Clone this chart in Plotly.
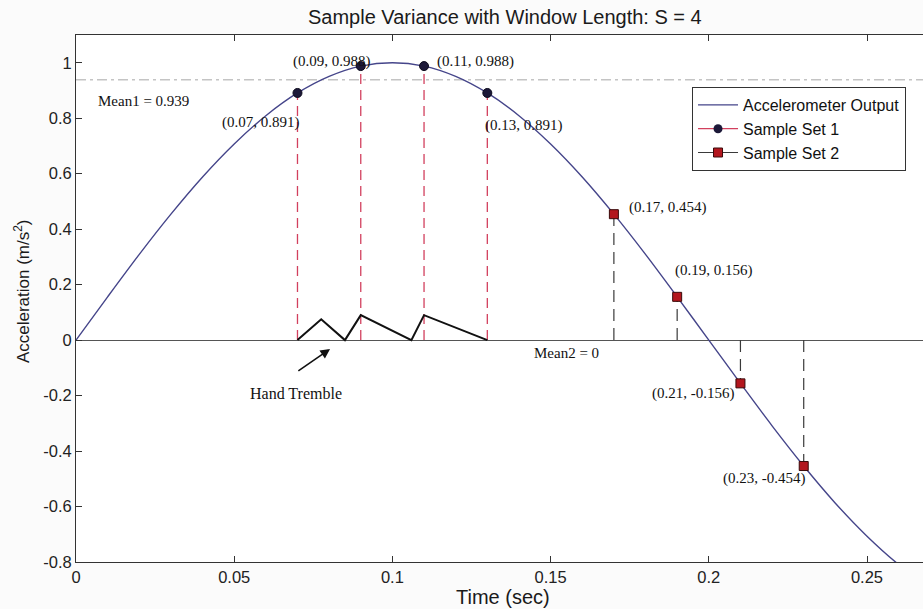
import plotly.graph_objects as go

# Accelerometer output sampled every 10 ms (m/s^2)
t_out = [0.00, 0.01, 0.02, 0.03, 0.04, 0.05, 0.06, 0.07, 0.08, 0.09,
         0.10, 0.11, 0.12, 0.13, 0.14, 0.15, 0.16, 0.17, 0.18, 0.19,
         0.20, 0.21, 0.22, 0.23, 0.24, 0.25, 0.26, 0.27]
a_out = [0.000, 0.156, 0.309, 0.454, 0.588, 0.707, 0.809, 0.891, 0.951, 0.988,
         1.000, 0.988, 0.951, 0.891, 0.809, 0.707, 0.588, 0.454, 0.309, 0.156,
         0.000, -0.156, -0.309, -0.454, -0.588, -0.707, -0.809, -0.891]

# Two windows of S = 4 samples
set1_t = [0.07, 0.09, 0.11, 0.13]
set1_v = [0.891, 0.988, 0.988, 0.891]
set2_t = [0.17, 0.19, 0.21, 0.23]
set2_v = [0.454, 0.156, -0.156, -0.454]

mean1 = 0.939
mean2 = 0

# Hand tremble trace near zero
tremble_t = [0.07, 0.0775, 0.085, 0.09, 0.106, 0.11, 0.13]
tremble_v = [0.0, 0.075, 0.0, 0.09, 0.0, 0.09, 0.0]

# Axis ticks
x_ticks = [0, 0.05, 0.1, 0.15, 0.2, 0.25]
x_ticklabels = ["0", "0.05", "0.1", "0.15", "0.2", "0.25"]
y_ticks = [-0.8, -0.6, -0.4, -0.2, 0, 0.2, 0.4, 0.6, 0.8, 1.0]
y_ticklabels = ["-0.8", "-0.6", "-0.4", "-0.2", "0", "0.2", "0.4", "0.6", "0.8", "1"]

SANS = "Liberation Sans, Arial, sans-serif"
SERIF = "Liberation Serif, Times New Roman, serif"

CURVE = "#45458a"
RED_STEM = "#d2405e"
GRAY_STEM = "#3a3a3a"
NAVY_DOT = "#1c1838"
RED_SQ = "#b3161e"


def stems(ts, vs):
    xs, ys = [], []
    for t, v in zip(ts, vs):
        xs += [t, t, None]
        ys += [0, v, None]
    return xs, ys


fig = go.Figure()

fig.add_trace(go.Scatter(
    x=t_out, y=a_out, mode="lines", name="Accelerometer Output",
    line=dict(color=CURVE, width=1.4, shape="spline", smoothing=0.8),
))

sx1, sy1 = stems(set1_t, set1_v)
fig.add_trace(go.Scatter(
    x=sx1, y=sy1, mode="lines", showlegend=False, hoverinfo="skip",
    line=dict(color=RED_STEM, width=1.3, dash="10px,6px"),
))
sx2, sy2 = stems(set2_t, set2_v)
fig.add_trace(go.Scatter(
    x=sx2, y=sy2, mode="lines", showlegend=False, hoverinfo="skip",
    line=dict(color=GRAY_STEM, width=1.2, dash="12px,7px"),
))

fig.add_trace(go.Scatter(
    x=tremble_t, y=tremble_v, mode="lines", showlegend=False,
    line=dict(color="#111111", width=2),
))

fig.add_trace(go.Scatter(
    x=set1_t, y=set1_v, mode="markers", showlegend=False,
    marker=dict(symbol="circle", size=9, color=NAVY_DOT,
                line=dict(color="#0c0a1c", width=1)),
))
fig.add_trace(go.Scatter(
    x=set2_t, y=set2_v, mode="markers", showlegend=False,
    marker=dict(symbol="square", size=9, color=RED_SQ,
                line=dict(color="#3a0a0a", width=1)),
))

# legend entries for the two sample sets
fig.add_trace(go.Scatter(
    x=[None], y=[None], mode="lines+markers", name="Sample Set 1",
    line=dict(color=RED_STEM, width=1.3),
    marker=dict(symbol="circle", size=9, color=NAVY_DOT),
))
fig.add_trace(go.Scatter(
    x=[None], y=[None], mode="lines+markers", name="Sample Set 2",
    line=dict(color=GRAY_STEM, width=1.2),
    marker=dict(symbol="square", size=9, color=RED_SQ,
                line=dict(color="#3a0a0a", width=1)),
))

# mean of the first window
fig.add_shape(type="line", xref="paper", x0=0, x1=1, yref="y", y0=mean1, y1=mean1,
              line=dict(color="#c4c4c4", width=1.5, dash="10px,4px,3px,4px"),
              layer="below")

annotations = []

# point labels: (anchor, xshift, yshift) per sample
label_pos1 = [("right", 5, -30), ("center", -29, 5), ("left", 11, 5), ("left", -4, -33)]
label_pos2 = [("left", 13, 7), ("left", -4, 26), ("right", -3, -10), ("right", 4, -12)]
for ts, vs, pos in ((set1_t, set1_v, label_pos1), (set2_t, set2_v, label_pos2)):
    for t, v, (anc, dx, dy) in zip(ts, vs, pos):
        annotations.append(dict(
            x=t, y=v, xref="x", yref="y", text=f"({t:.2f}, {v:.3f})",
            showarrow=False, xanchor=anc, yanchor="middle", xshift=dx, yshift=dy,
            font=dict(family=SERIF, size=15, color="#111111"),
        ))

annotations.append(dict(
    x=0, y=mean1, xref="paper", yref="y", text=f"Mean1 = {mean1}",
    showarrow=False, xanchor="left", yanchor="middle", xshift=20, yshift=-21,
    font=dict(family=SERIF, size=15, color="#111111"),
))
annotations.append(dict(
    x=0.144, y=mean2, xref="x", yref="y", text=f"Mean2 = {mean2}",
    showarrow=False, xanchor="left", yanchor="middle", yshift=-13,
    font=dict(family=SERIF, size=15, color="#111111"),
))

# hand tremble callout
annotations.append(dict(
    x=0.0803, y=-0.032, ax=0.0698, ay=-0.115, xref="x", yref="y",
    axref="x", ayref="y", text="", showarrow=True,
    arrowhead=2, arrowsize=1.2, arrowwidth=1.6, arrowcolor="#111111",
))
annotations.append(dict(
    x=0.0695, y=-0.191, xref="x", yref="y", text="Hand Tremble",
    showarrow=False, xanchor="center", yanchor="middle",
    font=dict(family=SERIF, size=16, color="#111111"),
))

# axis titles
annotations.append(dict(
    x=0.504, y=-0.0664, xref="paper", yref="paper", text="Time (sec)",
    showarrow=False, xanchor="center", yanchor="middle",
    font=dict(family=SANS, size=20, color="#1a1a1a"),
))
annotations.append(dict(
    x=-0.0638, y=0.514, xref="paper", yref="paper",
    text="Acceleration (m/s<sup>2</sup>)", textangle=-90,
    showarrow=False, xanchor="center", yanchor="middle",
    font=dict(family=SANS, size=17, color="#1a1a1a"),
))

fig.update_layout(
    width=923, height=609,
    margin=dict(l=76, r=0, t=35, b=47),
    paper_bgcolor="#fbfbfb", plot_bgcolor="#ffffff",
    title=dict(text="Sample Variance with Window Length: S = 4",
               x=0.547, xref="container", xanchor="center",
               y=1 - 17 / 609, yref="container", yanchor="middle",
               font=dict(family=SANS, size=20, color="#1a1a1a")),
    showlegend=True,
    legend=dict(x=0.7273, y=0.9013, xanchor="left", yanchor="top",
                bgcolor="#ffffff", bordercolor="#333333", borderwidth=1,
                font=dict(family=SANS, size=16, color="#111111"),
                itemwidth=40, tracegroupgap=0),
    annotations=annotations,
    xaxis=dict(range=[0, 0.2677], tickvals=x_ticks, ticktext=x_ticklabels,
               ticks="inside", ticklen=6, tickcolor="#333333",
               showline=True, linecolor="#333333", linewidth=1, mirror="ticks",
               showgrid=False, zeroline=False,
               tickfont=dict(family=SANS, size=16.5, color="#222222")),
    yaxis=dict(range=[-0.8, 1.1], tickvals=y_ticks, ticktext=y_ticklabels,
               ticks="inside", ticklen=6, tickcolor="#333333",
               showline=True, linecolor="#333333", linewidth=1,
               showgrid=False, zeroline=True, zerolinecolor="#555555",
               zerolinewidth=1.2,
               tickfont=dict(family=SANS, size=16.5, color="#222222")),
)

fig.write_html("out.html")
